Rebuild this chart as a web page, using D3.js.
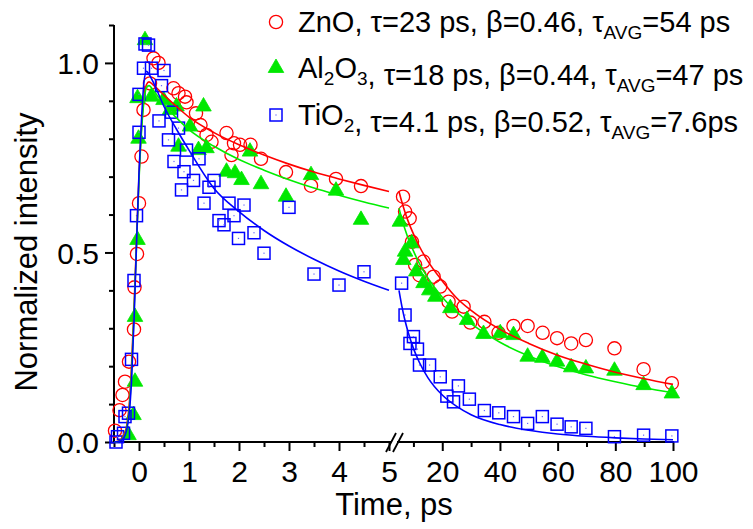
<!DOCTYPE html>
<html>
<head>
<meta charset="utf-8">
<script src="https://cdn.jsdelivr.net/npm/d3@7"></script>
<style>
  html, body { margin: 0; padding: 0; background: #fff; }
  svg { display: block; font-family: "Liberation Sans", Arial, sans-serif; }
</style>
</head>
<body>
<svg id="chart" width="753" height="529"></svg>
<script>
// ---------- data ----------
// scatter points: [time (ps), normalized intensity]
const znoLeft = [[-0.48,0.03],[-0.39,0.084],[-0.33,0.124],[-0.28,0.159],[-0.2,0.212],[-0.1,0.297],[-0.09,0.408],[-0.04,0.496],[0.0,0.63],[0.05,0.753],[0.09,0.876],[0.22,0.946],[0.29,1.012],[0.39,1.0],[0.69,0.933],[0.79,0.92],[0.92,0.911],[0.95,0.896],[1.14,0.867],[1.23,0.836],[1.35,0.81],[1.45,0.792],[1.75,0.815],[1.85,0.757],[1.9,0.788],[2.02,0.784],[2.23,0.784],[2.44,0.747],[2.94,0.712],[3.44,0.676],[3.94,0.694],[4.44,0.675]];
const znoRight = [[6.4,0.647],[7.1,0.608],[8.7,0.59],[9.5,0.528],[10.6,0.467],[12.1,0.44],[13.5,0.476],[17.0,0.436],[19.3,0.41],[22.2,0.37],[23.4,0.344],[27.4,0.357],[29.7,0.315],[34.6,0.317],[39.5,0.288],[44.7,0.306],[49.6,0.306],[54.8,0.288],[59.8,0.274],[64.7,0.26],[69.8,0.269],[79.7,0.247],[89.8,0.192],[99.6,0.155]];

const alLeft = [[-0.21,0.018],[-0.11,0.071],[-0.08,0.159],[-0.08,0.33],[-0.03,0.533],[-0.01,0.80],[-0.03,0.907],[0.12,1.06],[0.25,0.911],[0.49,0.902],[0.62,0.876],[0.75,0.885],[0.79,0.779],[1.02,0.832],[1.19,0.77],[1.29,0.885],[1.35,0.775],[1.75,0.713],[1.92,0.709],[2.05,0.691],[2.22,0.766],[2.44,0.68],[2.94,0.647],[3.44,0.704],[3.94,0.663],[4.44,0.586]];
const alRight = [[5.3,0.581],[6.5,0.48],[7.1,0.502],[9.4,0.524],[11.0,0.45],[13.5,0.419],[15.5,0.40],[17.6,0.383],[22.8,0.353],[28.6,0.322],[34.3,0.285],[40.1,0.287],[44.7,0.282],[49.6,0.225],[54.7,0.222],[59.8,0.212],[64.7,0.197],[69.8,0.194],[79.7,0.188],[89.8,0.15],[99.6,0.128]];

const tiLeft = [[-0.46,0.0],[-0.43,0.014],[-0.31,0.023],[-0.28,0.067],[-0.21,0.076],[-0.15,0.218],[-0.1,0.426],[-0.05,0.597],[0.0,0.817],[0.0,0.917],[0.09,0.986],[0.12,1.05],[0.19,1.047],[0.25,0.986],[0.4,0.847],[0.45,0.94],[0.5,0.98],[0.59,0.797],[0.65,0.87],[0.7,0.74],[0.79,0.828],[0.85,0.665],[0.9,0.713],[0.95,0.77],[1.09,0.69],[1.2,0.747],[1.3,0.63],[1.4,0.672],[1.5,0.69],[1.6,0.584],[1.7,0.573],[1.8,0.63],[1.9,0.597],[1.99,0.537],[2.1,0.625],[2.3,0.552],[2.5,0.498],[3.0,0.619],[3.5,0.443],[4.0,0.414],[4.5,0.449]];
const tiRight = [[5.9,0.419],[7.1,0.335],[8.8,0.26],[10.0,0.278],[11.4,0.245],[12.1,0.203],[15.6,0.203],[19.3,0.172],[21.6,0.121],[23.9,0.106],[25.6,0.148],[29.4,0.113],[34.6,0.083],[39.6,0.077],[44.7,0.067],[49.6,0.049],[54.7,0.067],[59.8,0.047],[64.7,0.04],[69.8,0.036],[79.7,0.014],[89.8,0.018],[99.6,0.016]];

// fit curves
const fitTimeLeft = [-0.5,-0.4,-0.3,-0.25,-0.2,-0.15,-0.1,-0.05,0,0.05,0.1,0.15,0.2,0.3,0.5,0.75,1,1.5,2,2.5,3,3.5,4,4.5,5];
const fitZnOLeft  = [0,0.003,0.02,0.04,0.09,0.2,0.35,0.53,0.70,0.83,0.91,0.943,0.95,0.94,0.915,0.885,0.857,0.816,0.784,0.757,0.733,0.712,0.694,0.677,0.661];
const fitAlLeft   = [0,0.002,0.015,0.035,0.08,0.18,0.34,0.52,0.69,0.82,0.90,0.935,0.94,0.925,0.89,0.855,0.824,0.78,0.745,0.717,0.692,0.67,0.651,0.633,0.617];
const fitTiLeft   = [0,0.002,0.012,0.03,0.07,0.16,0.32,0.52,0.71,0.85,0.95,0.978,0.97,0.945,0.885,0.825,0.77,0.669,0.608,0.558,0.517,0.482,0.451,0.424,0.40];
const fitTimeRight = [5,6,7,8,10,12,15,20,25,30,40,50,60,70,80,90,100];
const fitZnORight  = [0.661,0.633,0.608,0.586,0.549,0.517,0.477,0.425,0.38,0.347,0.297,0.26,0.229,0.205,0.184,0.167,0.152];
const fitAlRight   = [0.617,0.588,0.563,0.541,0.504,0.472,0.433,0.382,0.343,0.312,0.263,0.227,0.199,0.177,0.159,0.143,0.13];
const fitTiRight   = [0.40,0.358,0.323,0.294,0.247,0.211,0.170,0.124,0.094,0.072,0.046,0.031,0.021,0.015,0.011,0.008,0.006];

// axes ticks
const xTicksLeft = [0,1,2,3,4,5];
const xMinorLeft = [-0.5,0.5,1.5,2.5,3.5,4.5];
const xTicksRight = [20,40,60,80,100];
const xMinorRight = [10,30,50,70,90];
const yTicks = [0,0.5,1.0];
const yMinor = [0.1,0.2,0.3,0.4,0.6,0.7,0.8,0.9,1.1];

// legend
const legendItems = [
  {name:"ZnO", sub:"", after:"", rest:", τ=23 ps, β=0.46, τ", avg:"=54 ps", key:"zno"},
  {name:"Al", sub:"2", after:"O", sub2:"3", rest:", τ=18 ps, β=0.44, τ", avg:"=47 ps", key:"al"},
  {name:"TiO", sub:"2", after:"", rest:", τ=4.1 ps, β=0.52, τ", avg:"=7.6ps", key:"ti"}
];

// ---------- drawing ----------
const RED = "#ff0000", GREEN = "#00e800", BLUE = "#0000ff";
const svg = d3.select("#chart");

const xL = d3.scaleLinear().domain([-0.5,5]).range([114,389]);
const xR = d3.scaleLinear().domain([5,100]).range([399,673]);
const y  = d3.scaleLinear().domain([0,1.1]).range([442,25]);

const gx = svg.append("g");
const axL = d3.axisBottom(xL).tickValues(xTicksLeft).tickSize(9).tickFormat(d3.format("d"));
const axLm = d3.axisBottom(xL).tickValues(xMinorLeft).tickSize(5).tickFormat("");
const axR = d3.axisBottom(xR).tickValues(xTicksRight).tickSize(9).tickFormat(d3.format("d"));
const axRm = d3.axisBottom(xR).tickValues(xMinorRight).tickSize(5).tickFormat("");
function styleAxis(g){
  g.select(".domain").remove();
  g.selectAll(".tick line").attr("stroke","#000").attr("stroke-width",2);
  g.selectAll(".tick text").attr("font-size",30).attr("fill","#000")
    .attr("font-family",'"Liberation Sans", Arial, sans-serif');
}
gx.append("g").attr("transform","translate(0,442)").call(axLm).call(styleAxis);
gx.append("g").attr("transform","translate(0,442)").call(axRm).call(styleAxis);
gx.append("g").attr("transform","translate(0,442)").call(axL).call(styleAxis)
  .selectAll(".tick text").attr("dy","0.93em");
gx.append("g").attr("transform","translate(0,442)").call(axR).call(styleAxis)
  .selectAll(".tick text").attr("dy","0.93em");
// axis line with break
gx.append("line").attr("x1",xL(-0.5)-1).attr("x2",xL(5)+2).attr("y1",442).attr("y2",442).attr("stroke","#000").attr("stroke-width",2);
gx.append("line").attr("x1",xR(5)-2).attr("x2",xR(100)+1).attr("y1",442).attr("y2",442).attr("stroke","#000").attr("stroke-width",2);
[xL(5)+2, xR(5)-1].forEach(cx=>{
  gx.append("line").attr("x1",cx-5).attr("y1",452).attr("x2",cx+5).attr("y2",433)
    .attr("stroke","#000").attr("stroke-width",1.8);
});

// y axis
const ay = d3.axisLeft(y).tickValues(yTicks).tickSize(9).tickFormat(d3.format(".1f"));
const aym = d3.axisLeft(y).tickValues(yMinor).tickSize(5).tickFormat("");
const gy = svg.append("g");
gy.append("g").attr("transform","translate(114,0)").call(aym).call(styleAxis);
gy.append("g").attr("transform","translate(114,0)").call(ay).call(styleAxis)
  .selectAll(".tick text").attr("x",-15).attr("dy","0.36em");
gy.append("line").attr("x1",114).attr("x2",114).attr("y1",y(1.1)).attr("y2",443).attr("stroke","#000").attr("stroke-width",2);

// axis titles
svg.append("text").attr("x",394).attr("y",515).attr("text-anchor","middle")
  .attr("font-size",31).text("Time, ps");
svg.append("text").attr("transform","translate(37,252) rotate(-90)").attr("text-anchor","middle")
  .attr("font-size",31).text("Normalized intensity");

// markers
const plot = svg.append("g");
function px(d){ return d[0] <= 5 ? xL(d[0]) : xR(d[0]); }

const circleSym = (g, data) => g.selectAll(null).data(data).enter().append("circle")
  .attr("cx",px).attr("cy",d=>y(d[1])).attr("r",6.6)
  .attr("fill","none").attr("stroke",RED).attr("stroke-width",1.3);
const triSym = (g, data) => g.selectAll(null).data(data).enter().append("path")
  .attr("d",d3.symbol(d3.symbolTriangle,105))
  .attr("transform",d=>`translate(${px(d)},${y(d[1])})`)
  .attr("fill",GREEN).attr("stroke",GREEN).attr("stroke-width",0.8);
const sqSym = (g, data) => {
  g.selectAll(null).data(data).enter().append("rect")
    .attr("x",d=>px(d)-6).attr("y",d=>y(d[1])-6).attr("width",12).attr("height",12)
    .attr("fill","none").attr("stroke",BLUE).attr("stroke-width",1.5);
  g.selectAll(null).data(data).enter().append("rect")
    .attr("x",d=>px(d)-0.6).attr("y",d=>y(d[1])-0.6).attr("width",1.2).attr("height",1.2)
    .attr("fill","#6666ff");
};
circleSym(plot, znoLeft.concat(znoRight));
triSym(plot, alLeft.concat(alRight));
sqSym(plot, tiLeft.concat(tiRight));

// fit lines
const fits = [
  {tl:fitTimeLeft, vl:fitZnOLeft, tr:fitTimeRight, vr:fitZnORight, c:RED},
  {tl:fitTimeLeft, vl:fitAlLeft, tr:fitTimeRight, vr:fitAlRight, c:"#00ee00"},
  {tl:fitTimeLeft, vl:fitTiLeft, tr:fitTimeRight, vr:fitTiRight, c:BLUE}
];
const lineL = d3.line().x(d=>xL(d[0])).y(d=>y(d[1])).curve(d3.curveMonotoneX);
const lineR = d3.line().x(d=>xR(d[0])).y(d=>y(d[1])).curve(d3.curveMonotoneX);
fits.forEach(f=>{
  plot.append("path").attr("d",lineL(f.tl.map((t,i)=>[t,f.vl[i]])))
    .attr("fill","none").attr("stroke",f.c).attr("stroke-width",1.6);
  plot.append("path").attr("d",lineR(f.tr.map((t,i)=>[t,f.vr[i]])))
    .attr("fill","none").attr("stroke",f.c).attr("stroke-width",1.6);
});

// legend
const leg = svg.append("g");
const legY = [22, 68, 115];
const legX = 276, textX = 298;
legendItems.forEach((it,i)=>{
  const cy = legY[i];
  if (it.key==="zno") leg.append("circle").attr("cx",legX).attr("cy",cy).attr("r",6.6)
     .attr("fill","none").attr("stroke",RED).attr("stroke-width",1.3);
  if (it.key==="al") leg.append("path").attr("d",d3.symbol(d3.symbolTriangle,105))
     .attr("transform",`translate(${legX},${cy})`).attr("fill",GREEN).attr("stroke",GREEN).attr("stroke-width",0.8);
  if (it.key==="ti") { leg.append("rect").attr("x",legX-6).attr("y",cy-6).attr("width",12).attr("height",12)
     .attr("fill","none").attr("stroke",BLUE).attr("stroke-width",1.5);
     leg.append("rect").attr("x",legX-0.6).attr("y",cy-0.6).attr("width",1.2).attr("height",1.2).attr("fill","#6666ff"); }
  const t = leg.append("text").attr("x",textX).attr("y",cy+10).attr("font-size",29);
  t.append("tspan").text(it.name);
  if (it.sub) { t.append("tspan").attr("font-size",19).attr("dy",7).text(it.sub);
                t.append("tspan").attr("dy",-7).text(it.after || ""); }
  if (it.sub2) { t.append("tspan").attr("font-size",19).attr("dy",7).text(it.sub2);
                 t.append("tspan").attr("dy",-7).text(""); }
  t.append("tspan").text(it.rest);
  t.append("tspan").attr("font-size",19).attr("dy",7).text("AVG");
  t.append("tspan").attr("dy",-7).text(it.avg);
});
</script>
</body>
</html>
